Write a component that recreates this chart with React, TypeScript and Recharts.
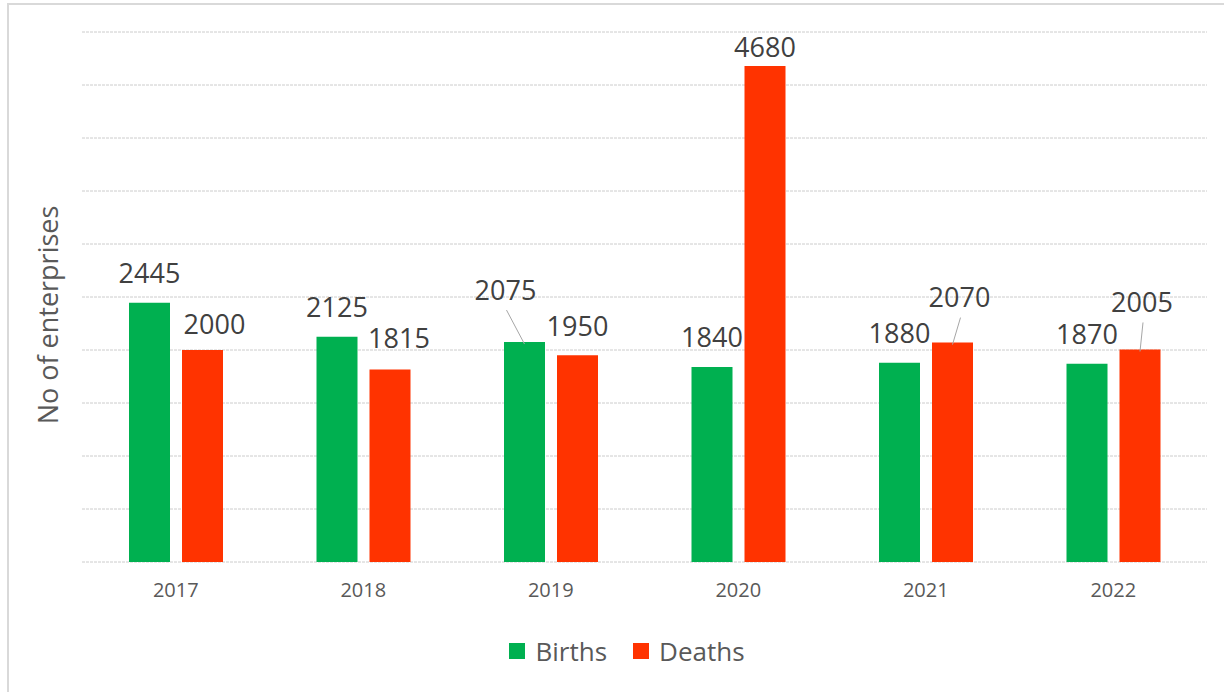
import React from "react";
import { BarChart, Bar, XAxis, YAxis, CartesianGrid, Legend, LabelList } from "recharts";

const YEARS = ["2017", "2018", "2019", "2020", "2021", "2022"];
const BIRTHS = [2445, 2125, 2075, 1840, 1880, 1870];
const DEATHS = [2000, 1815, 1950, 4680, 2070, 2005];
const Y_TICKS = [0, 500, 1000, 1500, 2000, 2500, 3000, 3500, 4000, 4500, 5000];

const GREEN = "#00B050";
const RED = "#FF3300";
const FONT = "'Open Sans', sans-serif";

// manual label nudges (Excel had some labels dragged around), [dx, dy, leader]
const NUDGE: Record<string, [number, number, boolean]> = {
  "Deaths-0": [12, 3, false],
  "Deaths-1": [9, -2, false],
  "Births-2": [-19, -23, true],
  "Deaths-3": [0, 11, false],
  "Deaths-4": [7, -16, true],
  "Deaths-5": [2, -18, true],
};

const data = YEARS.map((year, i) => ({ year, Births: BIRTHS[i], Deaths: DEATHS[i] }));

function makeLabel(series: string) {
  return (props: any) => {
    const { x, y, width, value, index } = props;
    const [dx, dy, leader] = NUDGE[`${series}-${index}`] ?? [0, 0, false];
    const cx = x + width / 2;
    const lx = cx + dx;
    const ly = y - 30 + dy;
    return (
      <g>
        {leader && <line x1={lx + 1} y1={ly + 21} x2={cx} y2={y + 2} stroke="#a6a6a6" strokeWidth={1} />}
        <text x={lx} y={ly} textAnchor="middle" dominantBaseline="central" fill="#404040" fontSize={27} fontFamily={FONT}>
          {value}
        </text>
      </g>
    );
  };
}

function LegendBox(props: any) {
  const items = props.payload ?? [];
  return (
    <div style={{ height: 40, paddingLeft: 30, display: "flex", justifyContent: "center", alignItems: "center", fontFamily: FONT, fontSize: 26, color: "#595959" }}>
      {items.map((it: any, i: number) => (
        <div key={it.value} style={{ display: "flex", alignItems: "center", marginLeft: i ? 26 : 0 }}>
          <span style={{ width: 16, height: 16, background: it.color, marginRight: 10, display: "inline-block" }} />
          <span>{it.value}</span>
        </div>
      ))}
    </div>
  );
}

export default function App() {
  return (
    <div style={{ position: "absolute", left: 0, top: 0, width: 1224, height: 692, overflow: "hidden", background: "#fff" }}>
      <div style={{ position: "absolute", left: 7, top: 3, width: 1300, height: 800, borderLeft: "2px solid #d9d9d9", borderTop: "2px solid #d9d9d9" }} />
      <BarChart width={1224} height={692} data={data} margin={{ top: 32, right: 17, bottom: 50, left: 0 }} barSize={41} barGap={12}>
        <CartesianGrid vertical={false} stroke="#cccccc" strokeDasharray="3 1" />
        <XAxis
          dataKey="year"
          height={40}
          axisLine={false}
          tickLine={false}
          tickMargin={15}
          tick={{ fill: "#595959", fontSize: 20, fontFamily: FONT }}
        />
        <YAxis
          width={82}
          domain={[0, 5000]}
          ticks={Y_TICKS}
          tick={() => <g />}
          axisLine={false}
          tickLine={false}
          label={{
            content: () => (
              <text x={47} y={315} transform="rotate(-90 47 315)" textAnchor="middle" dominantBaseline="central" fill="#595959" fontSize={27} fontFamily={FONT}>
                No of enterprises
              </text>
            ),
          }}
        />
        <Legend verticalAlign="bottom" content={<LegendBox />} wrapperStyle={{ bottom: 21, left: 0, width: 1224 }} />
        <Bar dataKey="Births" fill={GREEN} isAnimationActive={false}>
          <LabelList dataKey="Births" content={makeLabel("Births")} />
        </Bar>
        <Bar dataKey="Deaths" fill={RED} isAnimationActive={false}>
          <LabelList dataKey="Deaths" content={makeLabel("Deaths")} />
        </Bar>
      </BarChart>
    </div>
  );
}
